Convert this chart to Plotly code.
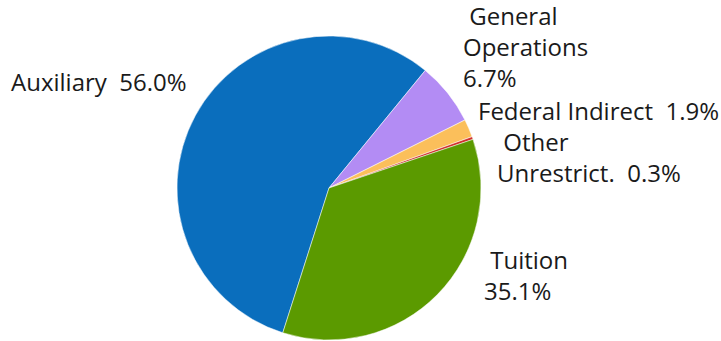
import plotly.graph_objects as go

# Revenue share by source
sources = ["Auxiliary", "General Operations", "Federal Indirect", "Other Unrestrict.", "Tuition"]
shares = [56.0, 6.7, 1.9, 0.3, 35.1]
label_lines = [
    ["Auxiliary\u00a0\u00a0{:.1f}%"],
    ["\u00a0General", "Operations", "{:.1f}%"],
    ["Federal Indirect\u00a0\u00a0{:.1f}%"],
    ["\u00a0Other", "Unrestrict.\u00a0\u00a0{:.1f}%"],
    ["\u00a0Tuition", "{:.1f}%"],
]
colors = ["#0a6ebd", "#b38cf4", "#fbbf5b", "#d0312d", "#5b9a00"]

W, H = 721, 341
FONT_SIZE = 24
# label placement in pixels: (left edge, vertical middle of the label block)
label_pos = [(10, 81), (462, 47), (477, 111), (496, 157), (483, 275)]

fig = go.Figure(
    go.Pie(
        labels=sources,
        values=shares,
        textinfo="none",
        sort=False,
        direction="clockwise",
        rotation=197.7,
        marker=dict(colors=colors, line=dict(color="white", width=0.5)),
        domain=dict(x=[177 / W, 481 / W], y=[1 / H, 305 / H]),
        showlegend=False,
        hoverinfo="label+percent",
    )
)

for lines, val, (px, py) in zip(label_lines, shares, label_pos):
    txt = "<br>".join(line.format(val) if "{" in line else line for line in lines)
    fig.add_annotation(
        text=txt,
        x=px / W,
        y=1 - py / H,
        xref="paper",
        yref="paper",
        xanchor="left",
        yanchor="middle",
        align="left",
        showarrow=False,
        borderpad=0,
        font=dict(family="Open Sans", size=FONT_SIZE, color="#1a1a1a"),
    )

fig.update_layout(
    width=W,
    height=H,
    margin=dict(l=0, r=0, t=0, b=0),
    paper_bgcolor="white",
    plot_bgcolor="white",
)
fig.write_html("out.html")
